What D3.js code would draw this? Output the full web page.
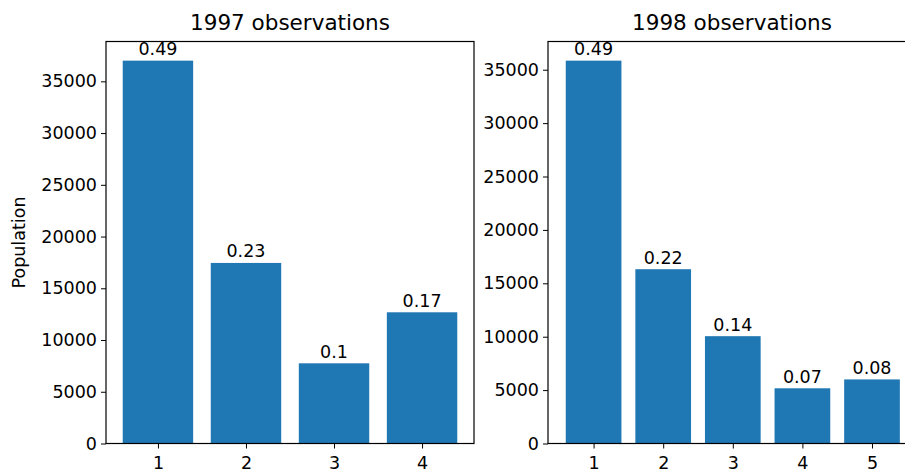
<!DOCTYPE html>
<html>
<head>
<meta charset="utf-8">
<script src="https://cdn.jsdelivr.net/npm/d3@7"></script>
<style>
  body { margin: 0; background: #fff; }
  svg text { font-family: "DejaVu Sans", sans-serif; fill: #000; }
  .axis path { display: none; }
  .axis line { stroke: #000; stroke-width: 1; }
  .axis text { font-size: 17.5px; }
</style>
</head>
<body>
<div id="chart"></div>
<script>
var width = 905, height = 474;

// 1997 panel
var cats1997 = [1, 2, 3, 4],
    pop1997 = [37000, 17450, 7750, 12680],
    share1997 = ['0.49', '0.23', '0.1', '0.17'];

// 1998 panel
var cats1998 = [1, 2, 3, 4, 5],
    pop1998 = [35850, 16320, 10050, 5170, 6000],
    share1998 = ['0.49', '0.22', '0.14', '0.07', '0.08'];

var yTicks = [0, 5000, 10000, 15000, 20000, 25000, 30000, 35000];

var svg = d3.select('div#chart').append('svg')
    .attr('width', width)
    .attr('height', height);

var panels = [
    {title: '1997 observations', cats: cats1997, vals: pop1997, labels: share1997,
     xDomain: [0.41, 4.59], xRange: [106, 474], ylabel: 'Population'},
    {title: '1998 observations', cats: cats1998, vals: pop1998, labels: share1998,
     xDomain: [0.345, 5.655], xRange: [548, 917.6], ylabel: null}
];

var plotTop = 41.5, plotBottom = 443.5;

panels.forEach(function (p) {
    var x = d3.scaleLinear().domain(p.xDomain).range(p.xRange);
    // matplotlib style 5% headroom over the tallest bar
    var y = d3.scaleLinear().domain([0, d3.max(p.vals) * 1.05]).range([plotBottom, plotTop]);
    var g = svg.append('g');

    g.selectAll('rect.bar')
        .data(p.vals)
        .enter().append('rect')
        .attr('class', 'bar')
        .attr('x', function (d, i) { return x(p.cats[i] - 0.4); })
        .attr('width', function (d, i) { return x(p.cats[i] + 0.4) - x(p.cats[i] - 0.4); })
        .attr('y', function (d) { return y(d); })
        .attr('height', function (d) { return y(0) - y(d); })
        .attr('fill', '#1f77b4');

    // value labels on top of bars
    g.selectAll('text.lbl')
        .data(p.vals)
        .enter().append('text')
        .attr('class', 'lbl')
        .attr('x', function (d, i) { return x(p.cats[i]); })
        .attr('y', function (d) { return y(d) - 5.5; })
        .attr('text-anchor', 'middle')
        .style('font-size', '17.5px')
        .text(function (d, i) { return p.labels[i]; });

    var xAxis = d3.axisBottom(x).tickValues(p.cats).tickFormat(d3.format('d'))
        .tickSizeInner(5).tickSizeOuter(0).tickPadding(8);
    g.append('g').attr('class', 'axis')
        .attr('transform', 'translate(0,' + plotBottom + ')')
        .call(xAxis);

    var yAxis = d3.axisLeft(y).tickValues(yTicks).tickFormat(d3.format('d'))
        .tickSizeInner(5).tickSizeOuter(0).tickPadding(4);
    g.append('g').attr('class', 'axis')
        .attr('transform', 'translate(' + p.xRange[0] + ',0)')
        .call(yAxis);

    // frame (spines)
    g.append('rect')
        .attr('x', p.xRange[0])
        .attr('y', plotTop)
        .attr('width', p.xRange[1] - p.xRange[0])
        .attr('height', plotBottom - plotTop)
        .attr('fill', 'none')
        .attr('stroke', '#000')
        .attr('stroke-width', 1.2);

    g.append('text')
        .attr('x', (p.xRange[0] + Math.min(p.xRange[1], p.xRange[0] + 368)) / 2)
        .attr('y', 30)
        .attr('text-anchor', 'middle')
        .style('font-size', '21.5px')
        .text(p.title);

    if (p.ylabel) {
        g.append('text')
            .attr('transform', 'translate(25,' + ((plotTop + plotBottom) / 2) + ') rotate(-90)')
            .attr('text-anchor', 'middle')
            .style('font-size', '17.5px')
            .text(p.ylabel);
    }
});
</script>
</body>
</html>
